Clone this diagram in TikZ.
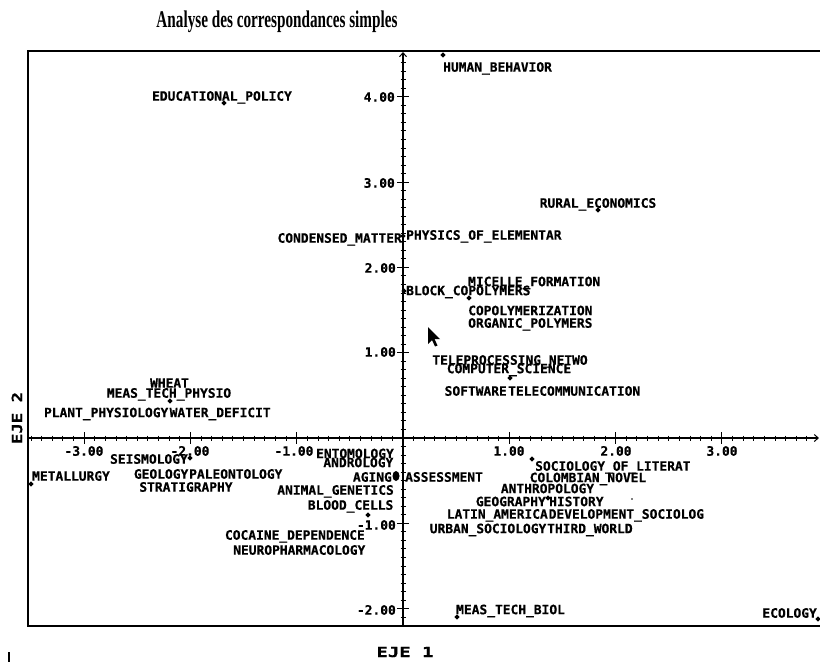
\documentclass[tikz,border=0pt]{standalone}
\usepackage{fontspec}
\usepackage{graphicx}
\usetikzlibrary{arrows.meta,shapes.geometric}
\newfontfamily\plotfont{DejaVu Sans Mono}[BoldFeatures={FakeBold=0.6}]
\newfontfamily\titlefont{Liberation Serif}

\begin{document}
\begin{tikzpicture}[x=1pt,y=-1pt,
  lbl/.style={font=\plotfont\bfseries\fontsize{12.9}{13}\selectfont,
              inner sep=0pt, text height=9.4pt, text depth=0pt},
  ticklbl/.style={lbl},
  dot/.style={shape=diamond, fill=black, inner sep=0pt, minimum size=5.5pt},
  frameline/.style={line width=1.7pt},
  axisline/.style={line width=1.1pt},
  axisarrow/.style={axisline, -{Straight Barb[length=4pt,width=7pt,line width=1pt]}}
]
\useasboundingbox (0,0) rectangle (820,662);

% ---------- title ----------
\node[inner sep=0pt] (title) at (277,22)
  {\resizebox{241pt}{\height}{\titlefont\bfseries\fontsize{24}{26}\selectfont Analyse des correspondances simples}};

% ---------- frame (open on the right) ----------
\coordinate (ftl) at (28,51);
\coordinate (fbl) at (28,626);
\coordinate (ftr) at (820,51);
\coordinate (fbr) at (820,626);
\draw[frameline] (ftr) -- (ftl) -- (fbl) -- (fbr);

% ---------- axes ----------
\coordinate (xstart) at (28,438);
\coordinate (xend) at (819,438);
\coordinate (ystart) at (403,626);
\coordinate (yend) at (403,52);
\draw[axisarrow] (xstart) -- (xend);
\draw[axisarrow] (ystart) -- (yend);

% minor ticks every 0.1
\foreach \i in {-35,...,38}
  \draw[line width=0.9pt] ({403+10.63*\i},435.5) -- ({403+10.63*\i},440.5);
\foreach \j in {-22,...,44}
  \draw[line width=0.9pt] (400.5,{438-8.53*\j}) -- (405.5,{438-8.53*\j});
% major ticks
\foreach \i in {-3,-2,-1,1,2,3}
  \draw[line width=1.1pt] ({403+106.3*\i},432) -- ({403+106.3*\i},444);
\foreach \j in {-2,-1,1,2,3,4}
  \draw[line width=1.1pt] (397,{438-85.3*\j}) -- (409,{438-85.3*\j});

% tick labels
\node[ticklbl] (xm3) at (84,451) {-3.00};
\node[ticklbl] (xm2) at (190,451) {-2.00};
\node[ticklbl] (xm1) at (294,451) {-1.00};
\node[ticklbl] (xp1) at (509,451) {1.00};
\node[ticklbl] (xp2) at (616,451) {2.00};
\node[ticklbl] (xp3) at (722,451) {3.00};
\node[ticklbl, anchor=east] (yp4) at (395,97) {4.00};
\node[ticklbl, anchor=east] (yp3) at (395,183) {3.00};
\node[ticklbl, anchor=east] (yp2) at (396,268) {2.00};
\node[ticklbl, anchor=east] (yp1) at (396,352) {1.00};
\node[ticklbl, anchor=east] (ym1) at (396,525) {-1.00};
\node[ticklbl, anchor=east] (ym2) at (396,610) {-2.00};

% axis titles
\node[inner sep=0pt] (eje1) at (405,652)
  {\resizebox{57pt}{\height}{\plotfont\bfseries\fontsize{14}{15}\selectfont EJE 1}};
\node[inner sep=0pt, rotate=90] (eje2) at (17,418)
  {\resizebox{52pt}{\height}{\plotfont\bfseries\fontsize{14}{15}\selectfont EJE 2}};
\coordinate (marka) at (9,652);
\coordinate (markb) at (9,662);
\draw[line width=2pt] (marka) -- (markb);

% ---------- points ----------
\node[dot] (p-hb) at (443,55) {};
\node[dot] (p-edu) at (224,103) {};
\node[dot] (p-rural) at (598,210) {};
\node[dot] (p-cond) at (403,236) {};
\node[dot] (p-block) at (404,291) {};
\node[dot] (p-mic) at (469,298) {};
\node[dot] (p-comp) at (510,378) {};
\node[dot] (p-wheat) at (170,401) {};
\node[dot] (p-seis) at (190,458) {};
\node[dot] (p-metal) at (31,484) {};
\node[ellipse, fill=black, inner sep=0pt, minimum width=7pt, minimum height=10pt] (p-aging) at (396,476) {};
\node[dot] (p-blood) at (368,515) {};
\node[dot] (p-socio) at (532,459) {};
\node[dot] (p-geo) at (548,498) {};
\node[circle, fill=black, inner sep=0pt, minimum size=1.8pt] (p-small) at (632,499) {};
\node[dot] (p-mtb) at (457,617) {};
\node[dot] (p-eco) at (818,619) {};

% ---------- labels ----------
\node[lbl, anchor=west] (l-hb) at (443,67) {HUMAN\_BEHAVIOR};
\node[lbl] (l-edu) at (222,96) {EDUCATIONAL\_POLICY};
\node[lbl] (l-rural) at (598,203) {RURAL\_ECONOMICS};
\node[lbl, anchor=east] (l-cond) at (402,238) {CONDENSED\_MATTER};
\node[lbl, anchor=west] (l-phys) at (406,235) {PHYSICS\_OF\_ELEMENTAR};
\node[lbl, anchor=west] (l-mic) at (468,281.5) {MICELLE\_FORMATION};
\node[lbl, anchor=west] (l-block) at (406,290.5) {BLOCK\_COPOLYMERS};
\node[lbl, anchor=west] (l-copo) at (468,310.5) {COPOLYMERIZATION};
\node[lbl, anchor=west] (l-org) at (468,323) {ORGANIC\_POLYMERS};
\node[lbl] (l-tele) at (510,360) {TELEPROCESSING\_NETWO};
\node[lbl] (l-comp) at (509,368.5) {COMPUTER\_SCIENCE};
\node[lbl, anchor=east] (l-soft) at (507,391) {SOFTWARE};
\node[lbl, anchor=west] (l-telc) at (508,391) {TELECOMMUNICATION};
\node[lbl] (l-wheat) at (169.5,383) {WHEAT};
\node[lbl] (l-mtp) at (169,393) {MEAS\_TECH\_PHYSIO};
\node[lbl, anchor=east] (l-plant) at (168.5,412.5) {PLANT\_PHYSIOLOGY};
\node[lbl, anchor=west] (l-water) at (169.5,412.5) {WATER\_DEFICIT};
\node[lbl, anchor=east] (l-seis) at (188,459) {SEISMOLOGY};
\node[lbl, anchor=east] (l-geol) at (188.5,474) {GEOLOGY};
\node[lbl, anchor=west] (l-pale) at (189,474) {PALEONTOLOGY};
\node[lbl] (l-strat) at (186,487) {STRATIGRAPHY};
\node[lbl, anchor=west] (l-metal) at (32,476) {METALLURGY};
\node[lbl, anchor=east] (l-ento) at (394,453.5) {ENTOMOLOGY};
\node[lbl, anchor=east] (l-andro) at (393.5,462.5) {ANDROLOGY};
\node[lbl, anchor=east] (l-aging) at (392,477) {AGING};
\node[lbl, anchor=west] (l-assess) at (405,477) {ASSESSMENT};
\node[lbl, anchor=east] (l-anim) at (394,490) {ANIMAL\_GENETICS};
\node[lbl, anchor=east] (l-blood) at (393.5,505) {BLOOD\_CELLS};
\node[lbl, anchor=east] (l-coca) at (365,535) {COCAINE\_DEPENDENCE};
\node[lbl, anchor=east] (l-neuro) at (365.5,550) {NEUROPHARMACOLOGY};
\node[lbl, anchor=west] (l-socio) at (535,466) {SOCIOLOGY\_OF\_LITERAT};
\node[lbl] (l-colo) at (588,477.5) {COLOMBIAN\_NOVEL};
\node[lbl] (l-anth) at (547.5,488.5) {ANTHROPOLOGY};
\node[lbl, anchor=east] (l-geog) at (546,501.5) {GEOGRAPHY};
\node[lbl, anchor=west] (l-hist) at (549,501.5) {HISTORY};
\node[lbl, anchor=east] (l-latin) at (548,514) {LATIN\_AMERICA};
\node[lbl, anchor=west] (l-devel) at (548.5,514) {DEVELOPMENT\_SOCIOLOG};
\node[lbl, anchor=east] (l-urban) at (546.5,528.5) {URBAN\_SOCIOLOGY};
\node[lbl, anchor=west] (l-third) at (547,528.5) {THIRD\_WORLD};
\node[lbl, anchor=west] (l-mtb) at (456,609.5) {MEAS\_TECH\_BIOL};
\node[lbl, anchor=east] (l-eco) at (817,613) {ECOLOGY};

% ---------- mouse pointer ----------
\fill (428,327) -- (428,344) -- (432,340) -- (435,346.5) -- (437.5,345.5) -- (434.5,339) -- (440,339) -- cycle;

\end{tikzpicture}
\end{document}
